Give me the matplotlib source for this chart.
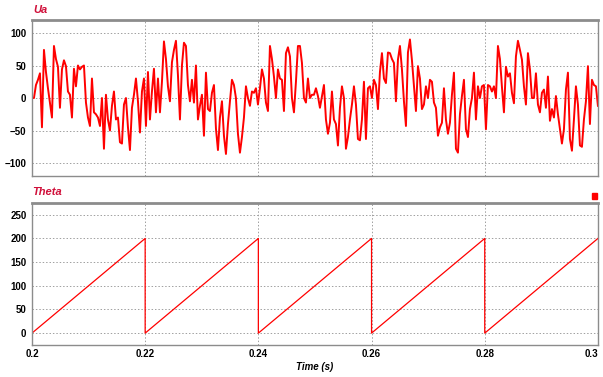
import numpy as np
import matplotlib
matplotlib.use('Agg')
import matplotlib.pyplot as plt
from matplotlib.patches import Rectangle

plt.rcParams['font.family'] = ['Liberation Sans', 'DejaVu Sans']

# Ua samples, evenly spaced from 0.2 s to 0.3 s
ua = [
    0, 0, 20, 28, 38, -45, 74, 40, 15, -7, -30, 80, 60, 48, -15, 44,
    58, 49, 10, 5, -30, 45, 18, 50, 44, 48, 50, -7, -30, -43, 30, -22,
    -25, -30, -43, 0, -78, 5, -33, -50, -12, 10, -33, -30, -68, -70, -10,
    0, -45, -80, -15, 5, 30, -5, -53, 10, 30, -43, 40, -33, 10, 45, -22,
    30, -22, 25, 87, 60, 18, -5, 55, 74, 88, 35, -33, 50, 85, 80, 20,
    -5, 28, -7, 50, -33, -12, 5, -58, 39, -17, -20, 8, 20, -47, -80,
    -30, -5, -58, -86, -40, -5, 28, 20, 0, -55, -84, -60, -30, 18, 0,
    -12, 10, 8, 15, -10, 15, 44, 30, -7, -20, 80, 60, 33, 0, 44, 30,
    28, -20, 69, 78, 64, 0, -22, 25, 80, 80, 54, 0, -7, 30, 0, 5,
    5, 15, 3, -15, 3, 20, -33, -55, -38, 10, -33, -40, -73, -15, 18, 0,
    -78, -60, -33, -10, 18, -10, -63, -65, -33, 25, -63, 15, 18, 0, 28,
    20, -17, 40, 69, 30, 23, 70, 69, 60, 54, -5, 59, 80, 44, -5, -43,
    70, 90, 58, 18, -20, 49, 30, -17, -10, 18, 0, 28, 25, -7, -15, -58,
    -45, -38, 15, -33, -55, -38, 5, 39, -78, -84, -25, 3, 28, -48, -60,
    -17, 0, 39, -33, 18, 0, 18, 20, -48, 20, 18, 10, 18, 0, 80, 60,
    17, -22, 48, 33, 38, 8, -8, 64, 88, 74, 59, 18, -10, 69, 44, 0,
    0, 38, -10, -22, 8, 13, -15, 33, -35, -17, -30, 3, -25, -48, -70,
    -48, 13, 39, -63, -81, -33, 18, -10, -73, -75, -33, -5, 49, -40, 28,
    20, 18, -12,
]
ua_t = np.linspace(0.2, 0.3, len(ua))

# Theta sawtooth corners (s, value)
theta_t = [0.2, 0.2, 0.22, 0.22, 0.24, 0.24, 0.26, 0.26, 0.28, 0.28, 0.3]
theta = [200, 0, 200, 0, 200, 0, 200, 0, 200, 0, 200]

x_ticks = [0.2, 0.22, 0.24, 0.26, 0.28, 0.3]
x_labels = ['0.2', '0.22', '0.24', '0.26', '0.28', '0.3']
ua_ticks = [-100, -50, 0, 50, 100]
theta_ticks = [0, 50, 100, 150, 200, 250]

line_red = '#ff0000'
title_red = '#d0103a'
frame_gray = '#8c8c8c'

fig = plt.figure(figsize=(6.03, 3.77), dpi=100)
ax1 = fig.add_axes([0.053, 0.533, 0.9386, 0.414])
ax2 = fig.add_axes([0.053, 0.085, 0.9386, 0.3767])

ax1.plot(ua_t, ua, color=line_red, lw=1.4)
ax2.plot(theta_t, theta, color=line_red, lw=0.9)

ax1.set_ylim(-120, 120)
ax1.set_yticks(ua_ticks)
ax2.set_ylim(-25, 275)
ax2.set_yticks(theta_ticks)

for ax in (ax1, ax2):
    ax.set_xlim(0.2, 0.3)
    ax.set_xticks(x_ticks)
    ax.grid(True, color='#a0a0a0', ls=(0, (1.5, 2)), lw=0.7)
    ax.tick_params(length=0, labelsize=7, pad=4)
    for lbl in ax.get_yticklabels():
        lbl.set_fontweight('bold')
    for s in ax.spines.values():
        s.set_color(frame_gray)
        s.set_linewidth(1.0)
    ax.spines['top'].set_linewidth(2.0)

ax1.set_xticklabels([])
ax2.set_xticklabels(x_labels, fontweight='bold')
ax2.tick_params(axis='x', pad=3)
# keep the last label inside the figure, as in the reference
ax2.get_xticklabels()[-1].set_horizontalalignment('right')

ax2.set_xlabel('Time (s)', fontsize=7, fontweight='bold', style='italic',
               labelpad=2)

fig.text(0.055, 0.974, 'Ua', color=title_red, fontsize=8,
         fontweight='bold', style='italic', va='center')
fig.text(0.053, 0.49, 'Theta', color=title_red, fontsize=8,
         fontweight='bold', style='italic', va='center')

fig.add_artist(Rectangle((0.981, 0.473), 0.009, 0.014,
                         transform=fig.transFigure, color=line_red))

fig.savefig('out.png', dpi=100)
